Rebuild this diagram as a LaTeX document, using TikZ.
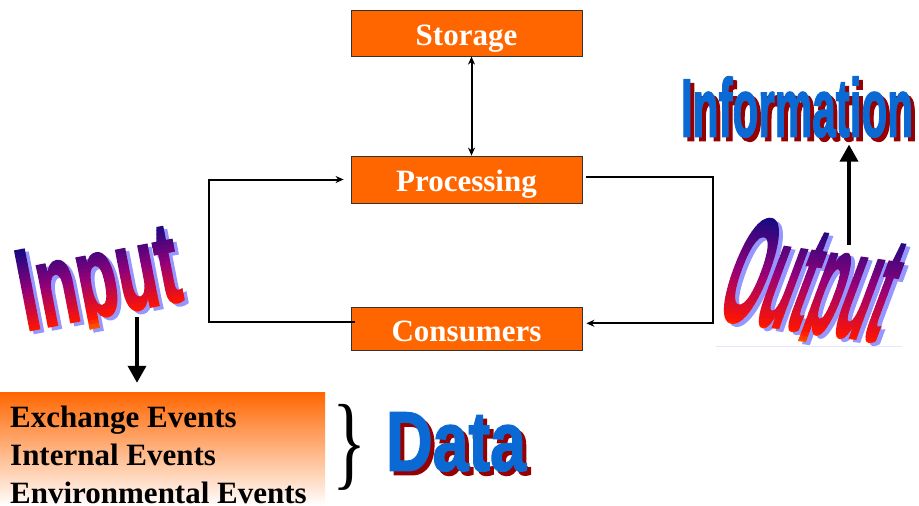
\documentclass[tikz,border=0pt]{standalone}
\usepackage{fontspec}
\setmainfont{Liberation Serif}
\setsansfont{Liberation Sans}
\newfontfamily\artfont{Liberation Sans}[UprightFont={* Bold}, FakeBold=2]
\usetikzlibrary{positioning, calc, arrows.meta}
\tikzset{>={Stealth[length=8pt,width=7pt]}}

\definecolor{boxorange}{RGB}{255,102,0}
\definecolor{artnavy}{RGB}{25,10,130}
\definecolor{artpurple}{RGB}{150,0,120}
\definecolor{artred}{RGB}{255,20,0}
\definecolor{artorange}{RGB}{255,150,0}
\definecolor{artshadow}{RGB}{150,150,255}
\definecolor{datablue}{RGB}{10,105,210}
\definecolor{datared}{RGB}{150,0,0}

\newcommand{\inputword}{\resizebox{162pt}{80pt}{\artfont Input}}
\newcommand{\outputword}{\resizebox{164pt}{106pt}{\artfont Output}}
\newcommand{\infoword}{\resizebox{232pt}{60pt}{\artfont Information}}
\newcommand{\dataword}{\resizebox{140pt}{58pt}{\artfont Data}}

% colour of one band of the word art, #1 = 0 (top) .. 1.1 (bottom)
\newcommand{\setstripcol}[1]{%
  \pgfmathtruncatemacro{\mixa}{min(200*#1,100)}%
  \pgfmathtruncatemacro{\mixb}{100-max(min(200*#1-100,100),0)}%
  \pgfmathtruncatemacro{\mixc}{100-max(min(500*#1-500,60),0)}%
  \colorlet{stripcol}{artpurple!\mixa!artnavy!\mixb!artred!\mixc!artorange}}

\begin{document}
\begin{tikzpicture}[
  x=1pt, y=-1pt,
  box/.style={draw=black!80, line width=0.8pt, fill=boxorange, text=white,
    font=\bfseries\fontsize{31}{31}\selectfont, minimum width=231pt,
    text height=24pt, text depth=0pt, inner sep=0pt},
  eventbox/.style={top color=boxorange, bottom color=white, minimum width=325pt,
    minimum height=114pt, inner sep=0pt},
  link/.style={line width=2pt},
  bigarrow/.style={line width=3.6pt, -{Triangle[length=17pt,width=18pt]}},
  wordshadow/.style={text=artshadow, inner sep=0pt, transform shape},
  wordstrip/.style={text=stripcol, inner sep=0pt, transform shape},
  dataword/.style={text=datablue, inner sep=0pt},
  datashadow/.style={text=datared, inner sep=0pt}
]
  \useasboundingbox (0,0) rectangle (919,506);

  % Boxes
  \node[box, minimum height=47pt] (proc) at (466.5,179.5) {Processing};
  \node[box, minimum height=46pt, above=99pt of proc] (storage) {Storage};
  \node[box, minimum height=43pt, below=104pt of proc] (cons) {Consumers};

  % Links
  \draw[link, <->] ([xshift=5pt]storage.south) -- ([xshift=5pt]storage.south |- proc.north);
  \draw[link, ->, shorten >=7pt] ([xshift=4pt, yshift=7pt]cons.west) -- ++(-146,0) |- (proc.west);
  \draw[link, ->, shorten <=4pt, shorten >=4pt] ([yshift=3pt]proc.east) -- ++(131,0) |- ([yshift=6pt]cons.east);

  % Input word art (shadow, then colour bands; short descender)
  \begin{scope}[shift={(104,291)}, rotate=11]
    \clip (-120,-70) rectangle (120,39);
    \node[wordshadow] (inshadow) {\inputword};
  \end{scope}
  \begin{scope}[shift={(100,288)}, rotate=11]
    \clip (-120,-70) rectangle (120,39);
    \foreach \i in {0,...,24} {
      \pgfmathsetmacro{\ly}{-58+4*\i}
      \setstripcol{max(min((\ly+53)/80,1.1),0)}
      \begin{scope}
        \clip (-120,\ly) rectangle (120,{\ly+4.6});
        \node[wordstrip] {\inputword};
      \end{scope}
    }
  \end{scope}

  % Output word art
  \draw[blue!10, line width=0.8pt] (716,346) -- (902,346);
  \begin{scope}[shift={(812,297)}, rotate=-8, xslant=0.22]
    \clip (-130,-90) rectangle (130,48);
    \node[wordshadow] (outshadow) {\outputword};
  \end{scope}
  \begin{scope}[shift={(808,294)}, rotate=-8, xslant=0.22]
    \clip (-130,-90) rectangle (130,48);
    \foreach \i in {0,...,32} {
      \pgfmathsetmacro{\ly}{-78+4*\i}
      \setstripcol{max(min((\ly+70)/106,1.1),0)}
      \begin{scope}
        \clip (-130,\ly) rectangle (130,{\ly+4.6});
        \node[wordstrip] {\outputword};
      \end{scope}
    }
  \end{scope}

  % Information and Data
  \node[datashadow] at (801,111) {\infoword};
  \node[dataword] (info) at (797,107) {\infoword};
  \node[datashadow] at (460,446) {\dataword};
  \node[dataword] (data) at (456,442) {\dataword};

  % Events
  \node[eventbox] (events) at (162.5,449) {};
  \node[anchor=north west, inner sep=0pt, align=left,
    font=\bfseries\fontsize{31}{38}\selectfont] (eventlist) at (10,406)
    {Exchange Events\\Internal Events\\Environmental Events};
  \node[inner sep=0pt] (brace) at (350,447) {\resizebox*{34pt}{86pt}{\}}};

  % Big arrows
  \coordinate (inarrow) at (137,317);
  \coordinate (outarrow) at (849,245);
  \draw[bigarrow, shorten >=9pt] (inarrow) -- (inarrow |- events.north);
  \draw[bigarrow, shorten >=7pt] (outarrow) -- (outarrow |- info.south);
\end{tikzpicture}
\end{document}
